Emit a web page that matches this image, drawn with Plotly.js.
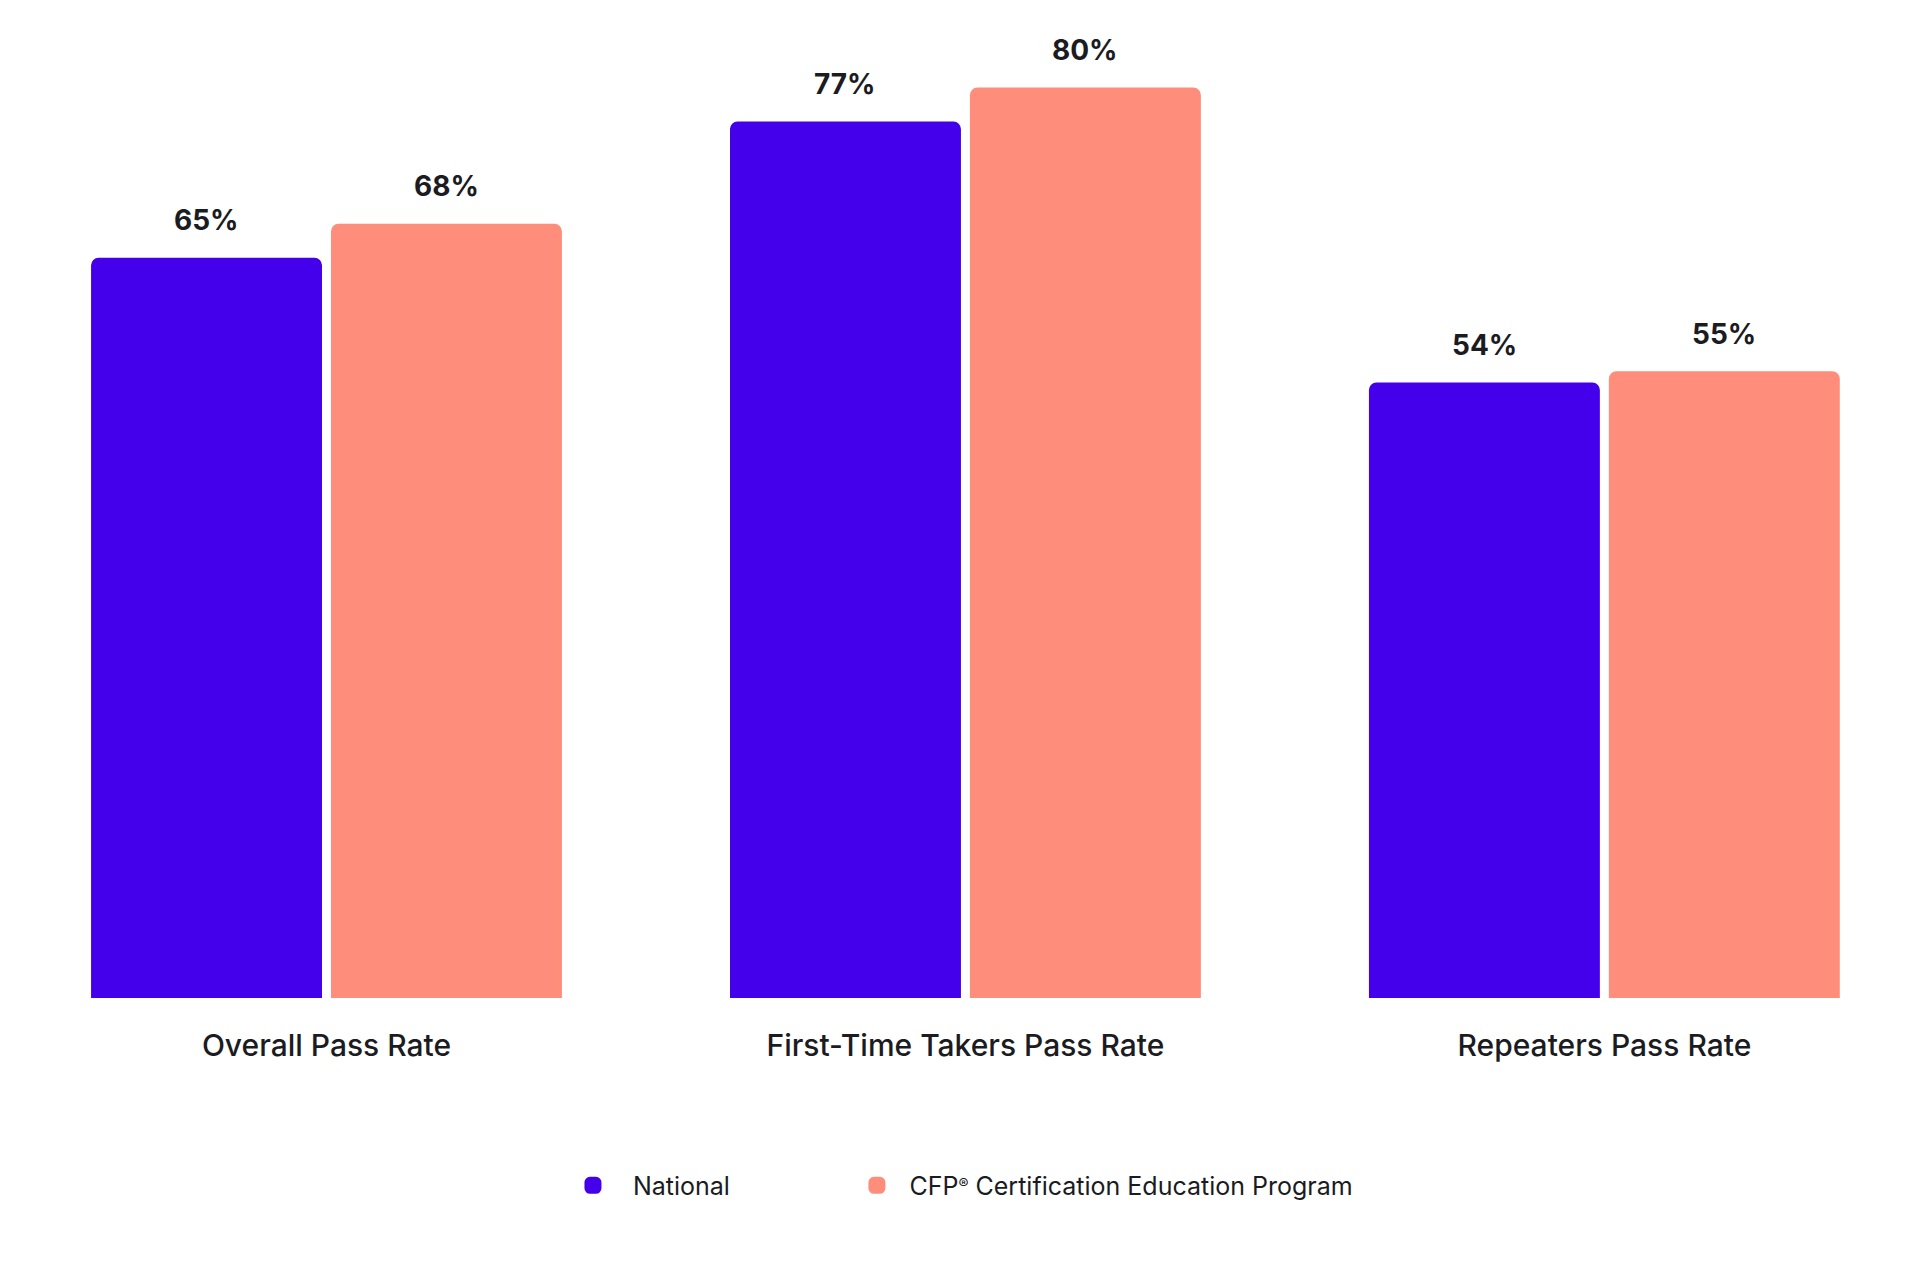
<!DOCTYPE html>
<html>
<head>
<meta charset="utf-8">
<script src="https://cdn.plot.ly/plotly-3.0.1.min.js"></script>
<style>
  html, body { margin: 0; padding: 0; background: #ffffff; }
  #chart { width: 1920px; height: 1264px; }
</style>
</head>
<body>
<div id="chart"></div>
<script>
const categories = ["Overall Pass Rate", "First-Time Takers Pass Rate", "Repeaters Pass Rate"];
const seriesNames = ["National", "CFP<span style=\"font-size:15px;baseline-shift:40%\">®</span> Certification Education Program"];
const nationalValues = [65, 77, 54];
const programValues = [68, 80, 55];
const seriesColors = ["#4400EB", "#FF8D7B"];

const allValues = [nationalValues, programValues];
const legendIds = ["legend", "legend2"];

const traces = allValues.map((vals, s) => ({
  type: "bar",
  name: seriesNames[s],
  legend: legendIds[s],
  x: categories,
  y: vals,
  marker: { color: seriesColors[s], cornerradius: 5, line: { color: seriesColors[s], width: 5 } },
  hoverinfo: "none"
}));

const slotShift = 120;
const annotations = [];
allValues.forEach((vals, s) => {
  vals.forEach((v, i) => {
    annotations.push({
      x: categories[i],
      y: v,
      xref: "x",
      yref: "y",
      text: v + "%",
      showarrow: false,
      xanchor: "center",
      yanchor: "bottom",
      xshift: s === 0 ? -slotShift : slotShift,
      yshift: 21,
      font: { family: "Inter, 'Noto Sans', sans-serif", size: 28, color: "#1b1b22", weight: 700 }
    });
  });
});

const legendFont = { family: "Inter, 'Noto Sans', sans-serif", size: 25, color: "#1b1b22" };
const baseLegend = {
  orientation: "h",
  xanchor: "left",
  y: -0.188,
  yanchor: "middle",
  font: legendFont,
  bgcolor: "rgba(0,0,0,0)"
};

const layout = {
  width: 1920,
  height: 1264,
  paper_bgcolor: "#ffffff",
  plot_bgcolor: "#ffffff",
  margin: { l: 0, r: 0, t: 0, b: 266 },
  barmode: "group",
  bargap: 0.249,
  bargroupgap: 0.0583,
  showlegend: true,
  legend: Object.assign({}, baseLegend, { x: 0.288, itemwidth: 70 }),
  legend2: Object.assign({}, baseLegend, { x: 0.4398, itemwidth: 55 }),
  xaxis: {
    type: "category",
    range: [-0.511, 2.494],
    showgrid: false,
    zeroline: false,
    showline: false,
    ticks: "outside",
    ticklen: 11,
    tickcolor: "rgba(0,0,0,0)",
    ticklabelstandoff: 10,
    tickfont: { family: "Inter, 'Noto Sans', sans-serif", size: 30, color: "#1b1b22", weight: 500 }
  },
  yaxis: {
    range: [0, 87.93],
    showgrid: false,
    zeroline: false,
    showline: false,
    showticklabels: false,
    ticks: ""
  },
  annotations: annotations
};

Plotly.newPlot("chart", traces, layout, { displayModeBar: false, staticPlot: true });
</script>
</body>
</html>
